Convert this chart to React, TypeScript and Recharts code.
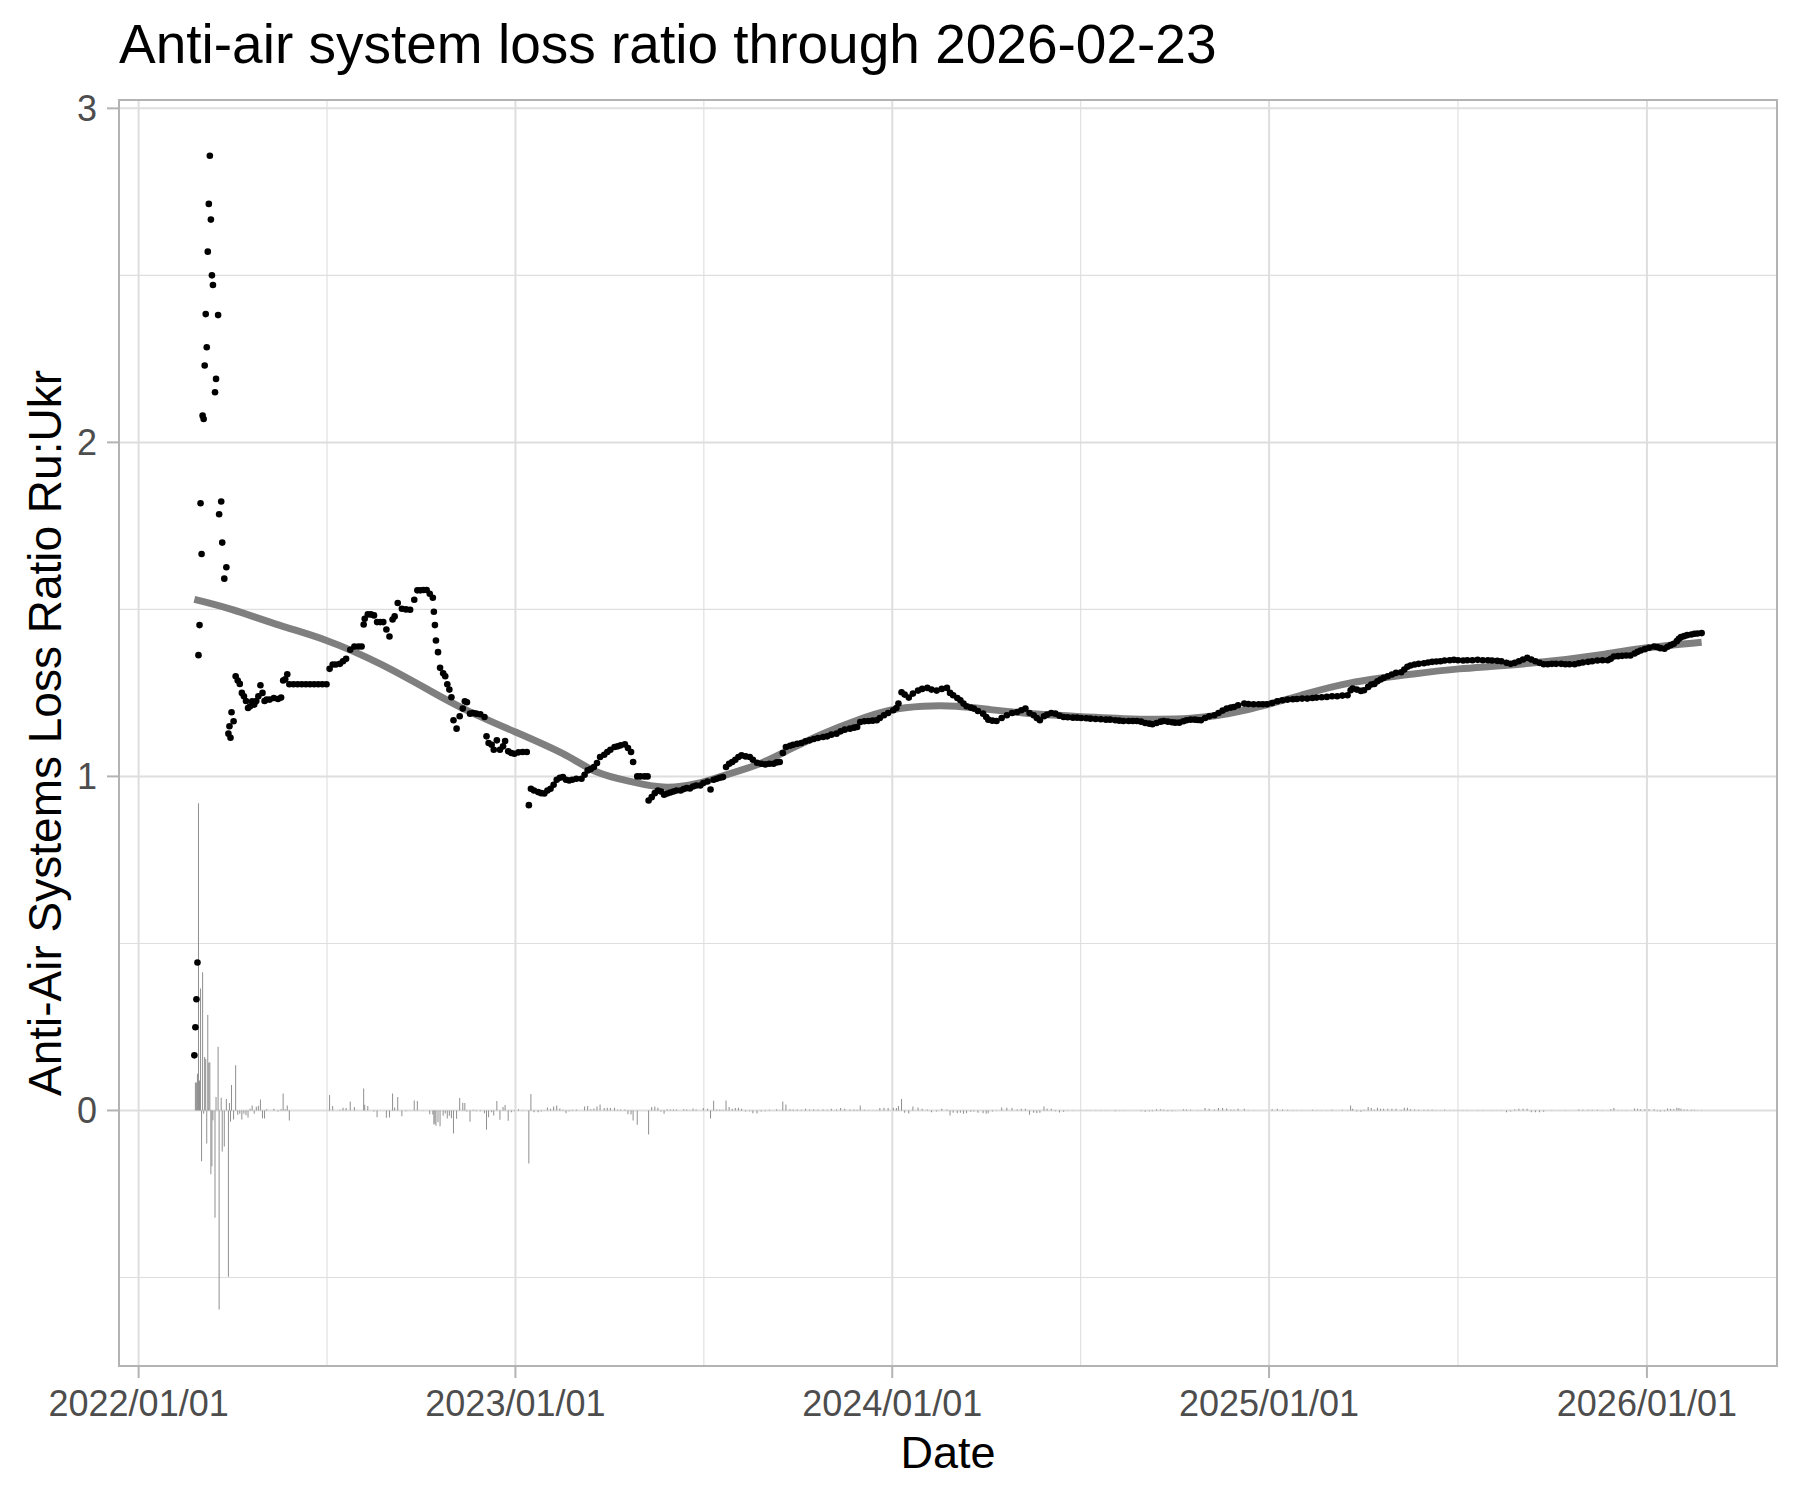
import { ComposedChart, Bar, Scatter, Line, XAxis, YAxis, CartesianGrid } from "recharts";

const TITLE = "Anti-air system loss ratio through 2026-02-23";
const X_TITLE = "Date";
const Y_TITLE = "Anti-Air Systems Loss Ratio Ru:Ukr";

// x is days since 2022-01-01
const X_TICKS = [0, 365, 730, 1095, 1461];
const X_TICK_LABELS = ["2022/01/01", "2023/01/01", "2024/01/01", "2025/01/01", "2026/01/01"];
const X_MINOR = [182.5, 547.5, 912.5, 1278];
const Y_TICKS = [0, 1, 2, 3];
const Y_MINOR = [-0.5, 0.5, 1.5, 2.5];
const X_DOMAIN = [-19, 1587];
const Y_DOMAIN = [-0.765, 3.025];

// [day, ratio]
const RATIO_2022: [number, number][] = [
  [54, 0.165], [55, 0.249], [56, 0.333], [57, 0.443], [58, 1.363], [59, 1.453], [60, 1.818], [61, 1.666],
  [62, 2.08], [63, 2.07], [64, 2.23], [65, 2.384], [66, 2.285], [67, 2.571], [68, 2.714], [69, 2.858],
  [70, 2.667], [71, 2.5], [72, 2.471], [74, 2.15], [75, 2.19], [77, 2.381], [78, 1.785], [80, 1.823],
  [81, 1.7], [83, 1.592], [85, 1.626], [87, 1.128], [88, 1.15], [89, 1.116], [90, 1.192], [92, 1.165],
  [94, 1.3], [96, 1.287], [98, 1.277], [100, 1.25], [102, 1.24], [104, 1.226], [106, 1.205], [108, 1.21],
  [110, 1.225], [112, 1.215], [114, 1.226], [116, 1.24], [118, 1.273], [120, 1.25], [122, 1.226], [124, 1.23],
  [127, 1.23], [131, 1.235], [135, 1.232], [138, 1.236], [140, 1.287], [142, 1.291], [144, 1.306], [146, 1.276],
  [150, 1.276], [154, 1.276], [158, 1.276], [162, 1.276], [166, 1.276], [170, 1.276], [174, 1.276], [178, 1.276],
  [182, 1.276], [185, 1.322], [188, 1.335], [191, 1.335], [195, 1.337], [198, 1.345], [201, 1.352], [205, 1.379],
  [209, 1.389], [213, 1.389], [216, 1.389], [218, 1.455], [219, 1.472], [222, 1.485], [225, 1.485], [228, 1.482],
  [231, 1.462], [234, 1.462], [237, 1.462], [240, 1.44], [243, 1.419], [246, 1.47], [248, 1.479], [251, 1.519],
  [255, 1.502], [259, 1.5], [263, 1.499], [267, 1.529], [270, 1.557], [273, 1.557], [276, 1.558], [279, 1.558],
  [282, 1.547], [285, 1.535], [286, 1.493], [287, 1.453], [288, 1.407], [290, 1.372], [292, 1.325], [295, 1.309],
  [297, 1.3], [299, 1.276], [301, 1.26], [303, 1.237], [305, 1.168], [308, 1.143], [311, 1.18], [314, 1.203],
  [316, 1.225], [318, 1.222], [321, 1.188], [324, 1.19], [327, 1.188], [331, 1.186], [335, 1.178], [337, 1.12],
  [339, 1.1], [342, 1.095], [344, 1.08], [347, 1.108], [350, 1.08], [353, 1.09], [355, 1.106], [358, 1.075],
  [361, 1.07], [364, 1.068],
];

const RATIO_2023: [number, number][] = [
  [368, 1.072], [372, 1.073], [376, 1.073], [378, 0.914], [380, 0.963], [383, 0.958], [387, 0.953], [390, 0.95],
  [393, 0.949], [396, 0.958], [399, 0.963], [402, 0.975], [405, 0.99], [408, 0.996], [411, 0.998], [414, 0.99],
  [417, 0.988], [420, 0.99], [424, 0.993], [429, 0.993], [432, 1.005], [435, 1.018], [438, 1.022], [441, 1.028],
  [444, 1.04], [447, 1.058], [451, 1.065], [454, 1.073], [457, 1.08], [461, 1.088], [464, 1.09], [467, 1.093],
  [471, 1.096], [474, 1.085], [477, 1.073], [479, 1.043], [483, 1.0], [486, 1.0], [490, 1.0], [493, 1.0],
  [494, 0.928], [497, 0.938], [500, 0.95], [503, 0.958], [506, 0.955], [509, 0.945], [512, 0.949], [515, 0.952],
  [518, 0.955], [521, 0.958], [525, 0.958], [528, 0.962], [531, 0.965], [534, 0.964], [537, 0.97], [540, 0.973],
  [544, 0.973], [547, 0.98], [551, 0.985], [554, 0.961], [557, 0.99], [560, 0.993], [563, 0.996], [566, 0.998],
  [569, 1.028], [572, 1.038], [575, 1.043], [578, 1.05], [581, 1.058], [584, 1.063], [588, 1.06], [592, 1.058],
  [595, 1.05], [599, 1.041], [603, 1.038], [607, 1.036], [611, 1.038], [615, 1.038], [618, 1.042], [621, 1.043],
  [624, 1.07], [627, 1.088], [631, 1.092], [634, 1.095], [638, 1.098], [642, 1.1], [646, 1.105], [650, 1.108],
  [654, 1.112], [658, 1.115], [663, 1.118], [667, 1.12], [671, 1.125], [676, 1.128], [680, 1.135], [684, 1.14],
  [689, 1.143], [693, 1.146], [696, 1.148], [699, 1.163], [703, 1.165], [707, 1.166], [711, 1.167], [715, 1.168],
  [718, 1.175], [722, 1.183], [726, 1.19],
];

const RATIO_2024: [number, number][] = [
  [731, 1.198], [734, 1.205], [736, 1.218], [739, 1.252], [742, 1.245], [746, 1.236], [750, 1.248], [755, 1.257],
  [759, 1.262], [764, 1.265], [768, 1.26], [773, 1.257], [778, 1.262], [783, 1.265], [786, 1.25], [789, 1.243],
  [793, 1.235], [796, 1.228], [799, 1.218], [802, 1.21], [806, 1.206], [809, 1.203], [813, 1.196], [818, 1.188],
  [821, 1.178], [823, 1.17], [827, 1.167], [831, 1.166], [836, 1.175], [841, 1.183], [846, 1.19], [851, 1.193],
  [855, 1.198], [859, 1.203], [863, 1.19], [867, 1.183], [870, 1.175], [873, 1.168], [877, 1.18], [880, 1.185],
  [884, 1.19], [888, 1.188], [892, 1.182], [896, 1.178], [900, 1.177], [905, 1.176], [909, 1.176], [913, 1.175],
  [918, 1.174], [922, 1.173], [927, 1.172], [932, 1.171], [937, 1.17], [941, 1.17], [946, 1.168], [950, 1.167],
  [954, 1.166], [959, 1.166], [963, 1.166], [967, 1.166], [971, 1.164], [975, 1.16], [979, 1.158], [982, 1.156],
  [986, 1.16], [990, 1.164], [993, 1.166], [997, 1.164], [1001, 1.162], [1004, 1.161], [1008, 1.161], [1012, 1.165],
  [1015, 1.168], [1019, 1.17], [1023, 1.17], [1026, 1.169], [1029, 1.168], [1033, 1.175], [1037, 1.18], [1042, 1.183],
  [1046, 1.19], [1050, 1.197], [1054, 1.203], [1058, 1.206], [1061, 1.208], [1065, 1.213], [1071, 1.218], [1075, 1.217],
  [1080, 1.216], [1085, 1.216], [1089, 1.216], [1093, 1.216],
];

const RATIO_2025: [number, number][] = [
  [1098, 1.22], [1103, 1.225], [1108, 1.228], [1113, 1.23], [1118, 1.231], [1122, 1.232], [1127, 1.233], [1132, 1.233],
  [1137, 1.235], [1141, 1.236], [1146, 1.237], [1151, 1.238], [1156, 1.24], [1161, 1.24], [1166, 1.242], [1171, 1.243],
  [1174, 1.258], [1176, 1.263], [1180, 1.26], [1184, 1.256], [1187, 1.258], [1191, 1.268], [1194, 1.275], [1197, 1.277],
  [1200, 1.285], [1203, 1.29], [1206, 1.295], [1210, 1.3], [1214, 1.305], [1218, 1.31], [1223, 1.312], [1226, 1.32],
  [1229, 1.328], [1232, 1.332], [1236, 1.335], [1240, 1.337], [1245, 1.339], [1249, 1.341], [1253, 1.343], [1257, 1.344],
  [1261, 1.345], [1265, 1.347], [1270, 1.348], [1274, 1.349], [1278, 1.348], [1283, 1.347], [1287, 1.348], [1292, 1.348],
  [1297, 1.349], [1302, 1.348], [1307, 1.348], [1311, 1.347], [1316, 1.346], [1320, 1.345], [1325, 1.34], [1329, 1.337],
  [1333, 1.34], [1337, 1.345], [1341, 1.35], [1345, 1.355], [1349, 1.35], [1353, 1.345], [1357, 1.34], [1361, 1.336],
  [1365, 1.336], [1369, 1.337], [1373, 1.337], [1378, 1.337], [1382, 1.336], [1386, 1.336], [1391, 1.336], [1395, 1.339],
  [1399, 1.341], [1404, 1.343], [1408, 1.345], [1413, 1.347], [1418, 1.348], [1423, 1.348], [1426, 1.352], [1429, 1.359],
  [1433, 1.36], [1437, 1.361], [1441, 1.362], [1445, 1.362], [1449, 1.368], [1452, 1.373], [1455, 1.377], [1459, 1.381],
];

const RATIO_2026: [number, number][] = [
  [1463, 1.385], [1468, 1.389], [1471, 1.387], [1474, 1.384], [1478, 1.382], [1481, 1.388], [1484, 1.393], [1487, 1.397],
  [1490, 1.405], [1492, 1.412], [1494, 1.417], [1497, 1.42], [1500, 1.423], [1504, 1.425], [1507, 1.427], [1510, 1.428],
  [1514, 1.429],
];

// loess-style trend
const TREND: [number, number][] = [
  [54, 1.53], [90, 1.5], [137, 1.452], [182, 1.407], [234, 1.337], [282, 1.257], [318, 1.198], [365, 1.133],
  [411, 1.068], [444, 1.013], [476, 0.985], [508, 0.968], [540, 0.978], [566, 1.002], [599, 1.035], [630, 1.08],
  [663, 1.128], [696, 1.168], [728, 1.198], [760, 1.21], [792, 1.21], [825, 1.2], [857, 1.19], [890, 1.183],
  [954, 1.173], [1019, 1.174], [1071, 1.198], [1126, 1.243], [1174, 1.28], [1230, 1.305], [1279, 1.322], [1352, 1.34],
  [1420, 1.366], [1461, 1.385], [1514, 1.402],
];

const FONT = "'Liberation Sans', Arial, Helvetica, sans-serif";
const GRID = "#dedede";
const FRAME = "#b3b3b3";

const ratioRows = [...RATIO_2022, ...RATIO_2023, ...RATIO_2024, ...RATIO_2025, ...RATIO_2026];
// bars show the change of the ratio from the previous reading
const rows = ratioRows.map(([day, ratio], i) => ({
  day,
  ratio,
  change: i > 0 ? Math.round((ratio - ratioRows[i - 1][1]) * 1000) / 1000 : 0,
}));
const trendRows = TREND.map(([day, trend]) => ({ day, trend }));

const Dot = (p: any) => <circle cx={p.cx} cy={p.cy} r={3.3} fill="#000" />;

export default function App() {
  return (
    <div style={{ position: "absolute", left: 0, top: 0, width: 1800, height: 1500, background: "#fff" }}>
      <ComposedChart
        width={1800}
        height={1500}
        data={rows}
        margin={{ top: 100, right: 23, bottom: 74, left: 0 }}
      >
        <CartesianGrid stroke={GRID} strokeWidth={2} />
        <CartesianGrid stroke={GRID} strokeWidth={1.1} xAxisId="minor" yAxisId="minor" />
        <XAxis
          xAxisId="minor"
          dataKey="day"
          type="number"
          domain={X_DOMAIN}
          allowDataOverflow
          ticks={X_MINOR}
          interval={0}
          hide
        />
        <YAxis
          yAxisId="minor"
          type="number"
          domain={Y_DOMAIN}
          allowDataOverflow
          ticks={Y_MINOR}
          interval={0}
          hide
        />
        <XAxis
          dataKey="day"
          type="number"
          domain={X_DOMAIN}
          allowDataOverflow
          ticks={X_TICKS}
          interval={0}
          tickFormatter={(d: number) => X_TICK_LABELS[X_TICKS.indexOf(d)] ?? ""}
          axisLine={false}
          tickLine={{ stroke: FRAME, strokeWidth: 2 }}
          tickSize={12}
          tickMargin={12}
          height={60}
          tick={{ fill: "#4d4d4d", fontSize: 36, fontFamily: FONT }}
        />
        <YAxis
          type="number"
          domain={Y_DOMAIN}
          allowDataOverflow
          ticks={Y_TICKS}
          interval={0}
          axisLine={false}
          tickLine={{ stroke: FRAME, strokeWidth: 2 }}
          tickSize={12}
          tickMargin={10}
          width={119}
          tick={{ fill: "#4d4d4d", fontSize: 36, fontFamily: FONT }}
        />
        <Bar dataKey="change" fill="#8f8f8f" barSize={1} isAnimationActive={false} />
        <Scatter data={rows} dataKey="ratio" shape={Dot} isAnimationActive={false} />
        <Line
          data={trendRows}
          dataKey="trend"
          type="natural"
          stroke="#7f7f7f"
          strokeWidth={7}
          dot={false}
          activeDot={false}
          isAnimationActive={false}
        />
      </ComposedChart>
      <div
        style={{
          position: "absolute",
          left: 118,
          top: 99,
          width: 1660,
          height: 1268,
          border: `2px solid ${FRAME}`,
          boxSizing: "border-box",
          pointerEvents: "none",
        }}
      />
      <svg width={1800} height={1500} style={{ position: "absolute", left: 0, top: 0, pointerEvents: "none" }}>
        <text x={119} y={63} fontSize={55} fontFamily={FONT} fill="#000">
          {TITLE}
        </text>
        <text x={948} y={1468} fontSize={45} fontFamily={FONT} fill="#000" textAnchor="middle">
          {X_TITLE}
        </text>
        <text
          transform="translate(61, 733) rotate(-90)"
          fontSize={46}
          fontFamily={FONT}
          fill="#000"
          textAnchor="middle"
        >
          {Y_TITLE}
        </text>
      </svg>
    </div>
  );
}
